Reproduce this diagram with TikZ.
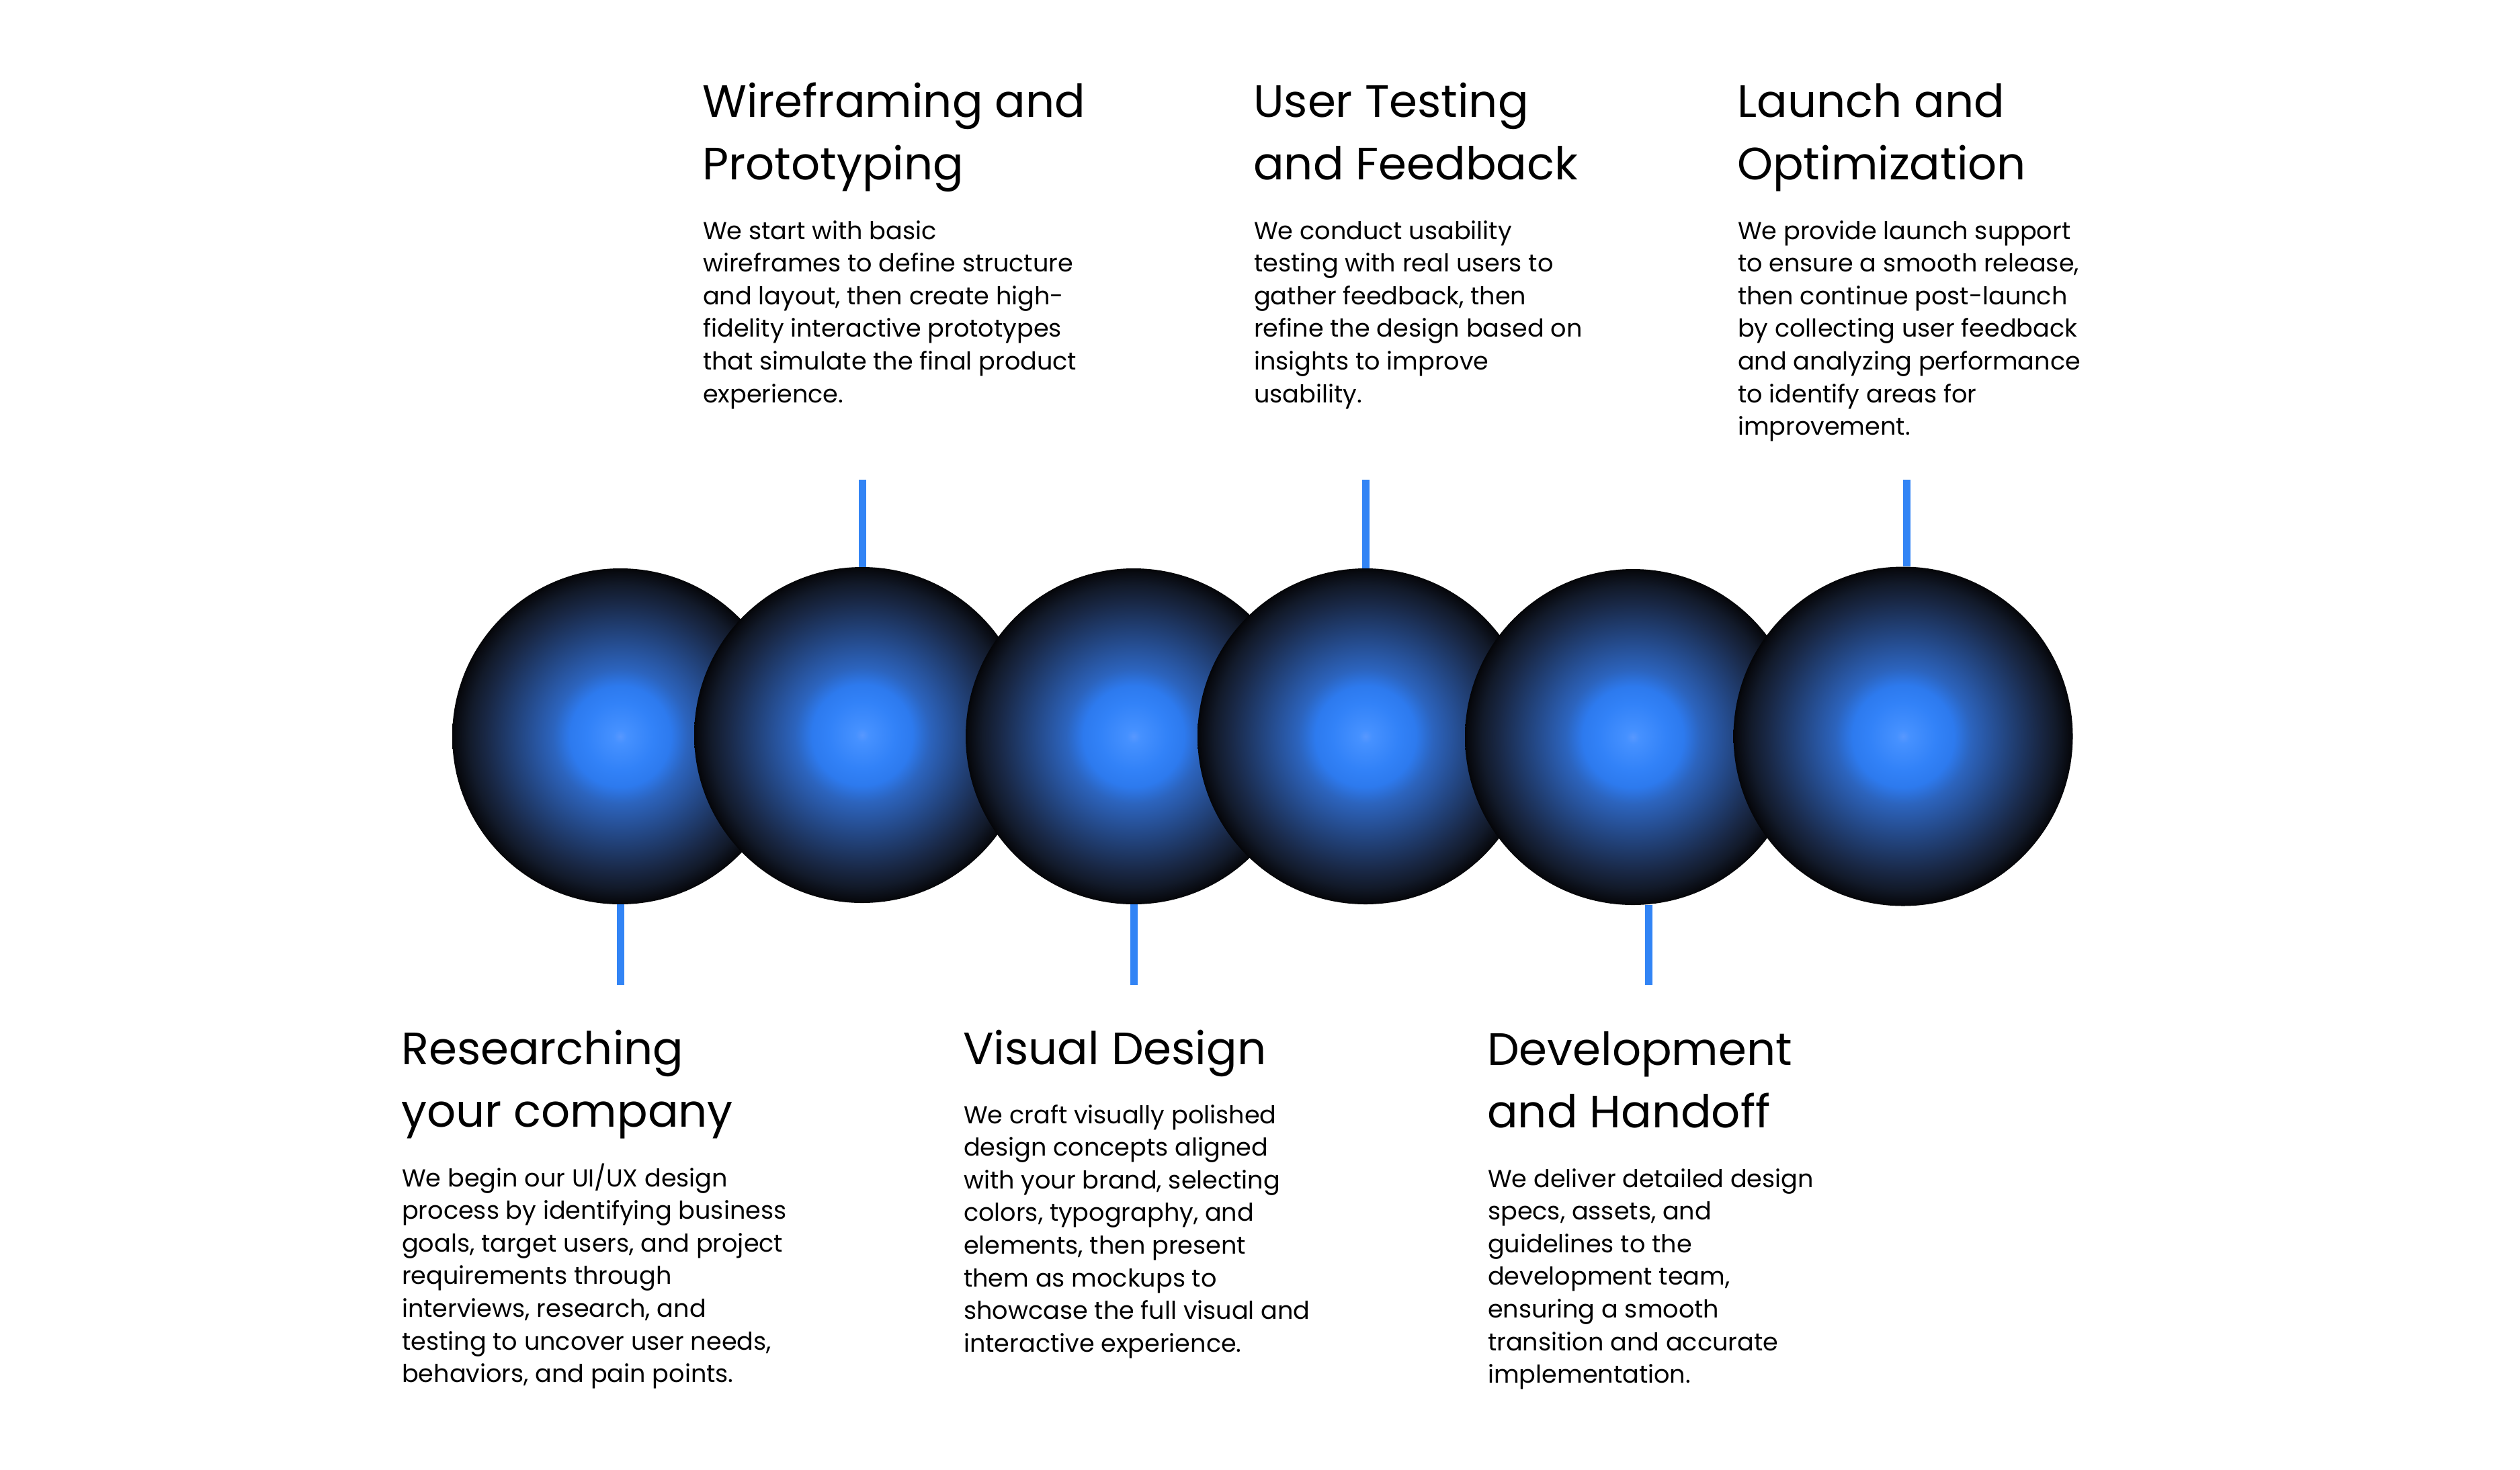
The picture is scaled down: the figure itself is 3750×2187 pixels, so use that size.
\documentclass[tikz,border=0pt]{standalone}
\usepackage{fontspec}
\setmainfont{Poppins}
\definecolor{bs0}{RGB}{88,152,255}
\definecolor{bs1}{RGB}{70,145,255}
\definecolor{bs2}{RGB}{50,130,248}
\definecolor{bs3}{RGB}{45,122,238}
\definecolor{bs4}{RGB}{44,100,190}
\definecolor{bs5}{RGB}{40,85,160}
\definecolor{bs6}{RGB}{35,70,130}
\definecolor{bs7}{RGB}{30,55,100}
\definecolor{bs8}{RGB}{25,40,70}
\definecolor{bs9}{RGB}{18,26,42}
\definecolor{bs10}{RGB}{8,10,16}
\definecolor{bs11}{RGB}{4,5,8}
\definecolor{linkblue}{RGB}{50,132,245}
\pgfdeclareradialshading{ballshade}{\pgfpoint{0bp}{0bp}}{%
  color(0bp)=(bs0); color(1bp)=(bs1); color(5bp)=(bs2); color(7.5bp)=(bs3);
  color(10bp)=(bs4); color(12.5bp)=(bs5); color(15bp)=(bs6); color(17.5bp)=(bs7);
  color(20bp)=(bs8); color(22.5bp)=(bs9); color(24.5bp)=(bs10); color(25bp)=(bs11); color(50bp)=(bs11)}
\tikzset{
  ball/.style={circle, inner sep=0pt, minimum size=500pt, shade, shading=ballshade},
  link/.style={draw=linkblue, line width=11pt},
  % nodes are placed at the baseline of their LAST line
  ttl/.style={anchor=base west, align=left, inner sep=0pt, font=\fontsize{67.5}{93}\selectfont},
  bodytxt/.style={anchor=base west, align=left, inner sep=0pt, font=\fontsize{36.6}{48.6}\selectfont}
}
\begin{document}
\begin{tikzpicture}[x=1pt,y=-1pt]
\fill[white] (0,0) rectangle (3750,2187);
\useasboundingbox (0,0) rectangle (3750,2187);

% circles
\node[ball] (c1) at (923,1096) {};
\node[ball] (c2) at (1283,1094) {};
\node[ball] (c3) at (1687,1096) {};
\node[ball] (c4) at (2032,1096) {};
\node[ball] (c5) at (2430,1097) {};
\node[ball, minimum size=505pt] (c6) at (2832,1096) {};

% connector free ends
\coordinate (t2) at (1283,714);
\coordinate (t4) at (2032,714);
\coordinate (t6) at (2837,714);
\coordinate (b1) at (923,1466);
\coordinate (b3) at (1687,1466);
\coordinate (b5) at (2453,1466);

\draw[link] (t2) -- (c2.north);
\draw[link] (t4) -- (c4.north);
\draw[link] (t6) -- (t6 |- c6.north);
\draw[link] (b1) -- (c1.south);
\draw[link] (b3) -- (c3.south);
\draw[link] (b5) -- (b5 |- c5.south);

% top texts
\node[ttl] (h2) at (1045,267) {Wireframing and\\Prototyping};
\node[bodytxt] (d2) at (1046,599) {We start with basic\\wireframes to define structure\\and layout, then create high-\\fidelity interactive prototypes\\that simulate the final product\\experience.};

\node[ttl] (h4) at (1865,267) {User Testing\\and Feedback};
\node[bodytxt] (d4) at (1866,599) {We conduct usability\\testing with real users to\\gather feedback, then\\refine the design based on\\insights to improve\\usability.};

\node[ttl] (h6) at (2585,267) {Launch and\\Optimization};
\node[bodytxt] (d6) at (2586,647.6) {We provide launch support\\to ensure a smooth release,\\then continue post-launch\\by collecting user feedback\\and analyzing performance\\to identify areas for\\improvement.};

% bottom texts
\node[ttl] (h1) at (597,1677) {Researching\\your company};
\node[bodytxt] (d1) at (598,2057.6) {We begin our UI/UX design\\process by identifying business\\goals, target users, and project\\requirements through\\interviews, research, and\\testing to uncover user needs,\\behaviors, and pain points.};

\node[ttl] (h3) at (1433,1584) {Visual Design};
\node[bodytxt] (d3) at (1434,2012.2) {We craft visually polished\\design concepts aligned\\with your brand, selecting\\colors, typography, and\\elements, then present\\them as mockups to\\showcase the full visual and\\interactive experience.};

\node[ttl] (h5) at (2213,1678) {Development\\and Handoff};
\node[bodytxt] (d5) at (2214,2058.6) {We deliver detailed design\\specs, assets, and\\guidelines to the\\development team,\\ensuring a smooth\\transition and accurate\\implementation.};
\end{tikzpicture}
\end{document}
